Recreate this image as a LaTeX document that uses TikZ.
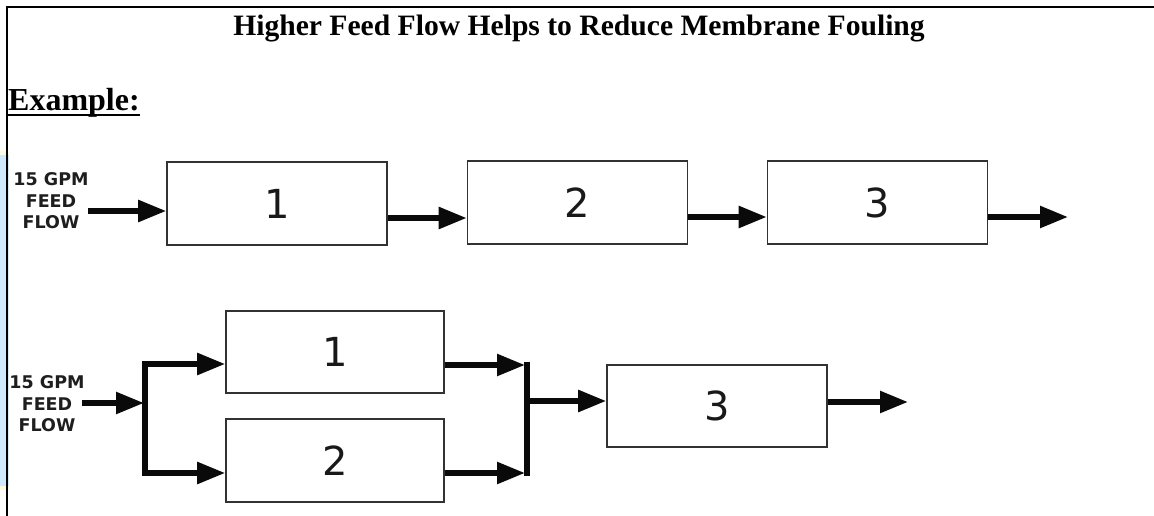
\documentclass[tikz,border=0pt]{standalone}
\usepackage{fontspec}
\setmainfont{Liberation Serif}
\newfontfamily\labelfont{DejaVu Sans}
\usetikzlibrary{arrows.meta}

\definecolor{boxline}{RGB}{50,50,50}
\definecolor{flowcol}{RGB}{10,10,10}
\definecolor{digitcol}{RGB}{25,25,25}
\definecolor{labelcol}{RGB}{30,30,30}
\definecolor{stripeblue}{RGB}{207,234,255}
\definecolor{stripeyellow}{RGB}{255,252,222}

\begin{document}
\begin{tikzpicture}[x=1pt,y=-1pt,
  box/.style={draw=boxline, line width=1.6pt, minimum width=220pt,
    minimum height=83pt, inner sep=0pt,
    font=\labelfont\fontsize{40}{40}\selectfont, text=digitcol},
  flow/.style={line width=5.5pt, draw=flowcol,
    -{Triangle[length=28pt,width=21pt]}},
  bar/.style={line width=5.5pt, draw=flowcol, line cap=rect},
  feedlabel/.style={align=center, inner sep=0pt, text=labelcol,
    font=\labelfont\bfseries\fontsize{17.5}{21.5}\selectfont},
  frame/.style={line width=2pt, draw=black}
]
% page and margins
\fill[white] (0,0) rectangle (1154,516);
\useasboundingbox (0,0) rectangle (1154,516);

% side stripe
\fill[stripeyellow] (0,151) rectangle (9,490);
\fill[stripeblue] (0,155) rectangle (9,486);

% frame (top and left rules)
\draw[frame] (6,7.3) -- (1154,7.3);
\draw[frame] (7,6.3) -- (7,516);

% headings
\node[anchor=base, inner sep=0pt, font=\bfseries\fontsize{29.6}{32}\selectfont]
  (title) at (579,35.5) {Higher Feed Flow Helps to Reduce Membrane Fouling};
\node[anchor=base west, inner sep=0pt, font=\bfseries\fontsize{32}{34}\selectfont]
  (ex) at (8,111) {Example:};
\draw[line width=2pt] ([yshift=-4pt]ex.base west) -- ([yshift=-4pt]ex.base east);

% ---- series arrangement ----
\node[feedlabel] (feedA) at (51,201) {15 GPM\\FEED\\FLOW};
\node[box] (a1) at (277,203.5) {1};
\node[box] (a2) at (577.5,202.5) {2};
\node[box] (a3) at (877.5,202.5) {3};
\coordinate (inA) at (88,211);
\coordinate (outA) at (1068,217);

\draw[flow] (inA) -- (inA -| a1.west);
\draw[flow] ([yshift=-14.5pt]a1.east) -- ([yshift=-14.5pt]a1.east -| a2.west);
\draw[flow] ([yshift=-14.5pt]a2.east) -- ([yshift=-14.5pt]a2.east -| a3.west);
\draw[flow] ([yshift=-14.5pt]a3.east) -- (outA);

% ---- parallel arrangement ----
\node[feedlabel] (feedB) at (47,404) {15 GPM\\FEED\\FLOW};
\node[box, minimum width=218pt, minimum height=82pt] (b1) at (335,352) {1};
\node[box, minimum width=218pt, minimum height=83pt] (b2) at (335,460.5) {2};
\node[box, minimum width=220pt, minimum height=82pt] (b3) at (717,406) {3};

\coordinate (inB) at (82,403);
\coordinate (splitT) at (145,364);
\coordinate (splitB) at (145,473);
\coordinate (splitM) at (145,403);
\coordinate (mergeT) at (527,365);
\coordinate (mergeB) at (527,473);
\coordinate (mergeM) at (527,401);
\coordinate (outB) at (908,402);

\draw[bar] (splitT) -- (splitB);
\draw[flow] (inB) -- ([xshift=-1pt]splitM);
\draw[flow] (splitT) -- (splitT -| b1.west);
\draw[flow] (splitB) -- (splitB -| b2.west);

\draw[bar] (mergeT) -- (mergeB);
\draw[flow] (mergeT -| b1.east) -- ([xshift=-2pt]mergeT);
\draw[flow] (mergeB -| b2.east) -- ([xshift=-2pt]mergeB);
\draw[flow] (mergeM) -- (mergeM -| b3.west);
\draw[flow] (outB -| b3.east) -- (outB);
\end{tikzpicture}
\end{document}
